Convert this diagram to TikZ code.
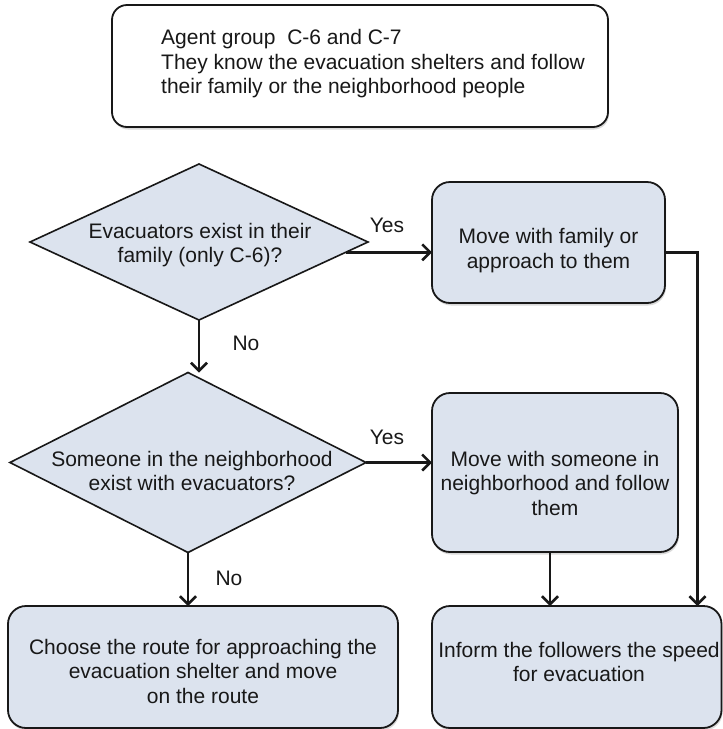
\documentclass[tikz,border=0pt]{standalone}
\usepackage{fontspec}
\setmainfont{Liberation Sans}
\usetikzlibrary{arrows.meta,shapes.geometric,shadows,calc}
\definecolor{boxfill}{RGB}{220,227,238}
\definecolor{ink}{RGB}{24,24,24}
\begin{document}
\begin{tikzpicture}[x=1pt,y=-1pt,
  font=\fontsize{21}{24.5}\selectfont,
  softshadow/.style={drop shadow={shadow xshift=1pt,shadow yshift=-2.5pt,opacity=0.3}},
  box/.style={draw=ink,line width=1.8pt,fill=boxfill,rounded corners=18pt,
    inner sep=0pt,outer sep=0pt,softshadow},
  headbox/.style={box,fill=white,rounded corners=15pt},
  decision/.style={diamond,draw=ink,line width=1.6pt,fill=boxfill,
    inner sep=0pt,outer sep=0pt},
  txt/.style={text=ink,align=center,inner sep=0pt},
  lbl/.style={text=ink,inner sep=0pt},
  conn/.style={draw=ink,line width=2.5pt,
    -{Straight Barb[length=8pt,width=16pt]}}]
\useasboundingbox (0,0) rectangle (723,729);

% header box
\node[headbox,minimum width=496pt,minimum height=122pt] (head) at (360,66) {};
\node[txt,align=left,anchor=west] (headt) at (161,64)
  {Agent group\ \ C-6 and C-7\\They know the evacuation shelters and follow\\their family or the neighborhood people};

% decisions
\node[decision,minimum width=338pt,minimum height=156pt] (d1) at (199,242) {};
\node[txt] (d1t) at (200,245) {Evacuators exist in their\\family (only C-6)?};
\node[decision,minimum width=356pt,minimum height=180pt] (d2) at (188,462.5) {};
\node[txt] (d2t) at (192,471) {Someone in the neighborhood\\exist with evacuators?};

% action boxes
\node[box,minimum width=233pt,minimum height=121pt] (box1) at (548.5,242.5) {};
\node[txt] (box1t) at (548.5,250.5) {Move with family or\\approach to them};
\node[box,minimum width=246pt,minimum height=159pt] (box2) at (555,472.5) {};
\node[txt] (box2t) at (555,483) {Move with someone in\\neighborhood and follow\\them};
\node[box,minimum width=390pt,minimum height=122pt] (box3) at (203,667) {};
\node[txt] (box3t) at (203,671) {Choose the route for approaching the\\evacuation shelter and move\\on the route};
\node[box,minimum width=289.5pt,minimum height=122pt] (box4) at (576.75,667) {};
\node[txt] (box4t) at (579,662) {Inform the followers the speed\\for evacuation};

% connectors
\draw[conn] (d1.356.4) -- (d1.356.4 -| box1.west);
\draw[conn] (box1.east |- d1.356.4) -| ($(box4.north east)+(-24,0)$);
\draw[conn] (d1.south) -- (d1.south |- d2.north);
\draw[conn] (d2.east) -- (d2.east -| box2.west);
\draw[conn] (d2.south) -- (d2.south |- box3.north);
\draw[conn] ([xshift=-5pt]box2.south) -- ([xshift=-5pt]box2.south |- box4.north);

% branch labels
\node[lbl] (yes1) at (387,225) {Yes};
\node[lbl] (no1) at (246,343) {No};
\node[lbl] (yes2) at (387,437) {Yes};
\node[lbl] (no2) at (229,578) {No};
\end{tikzpicture}
\end{document}
